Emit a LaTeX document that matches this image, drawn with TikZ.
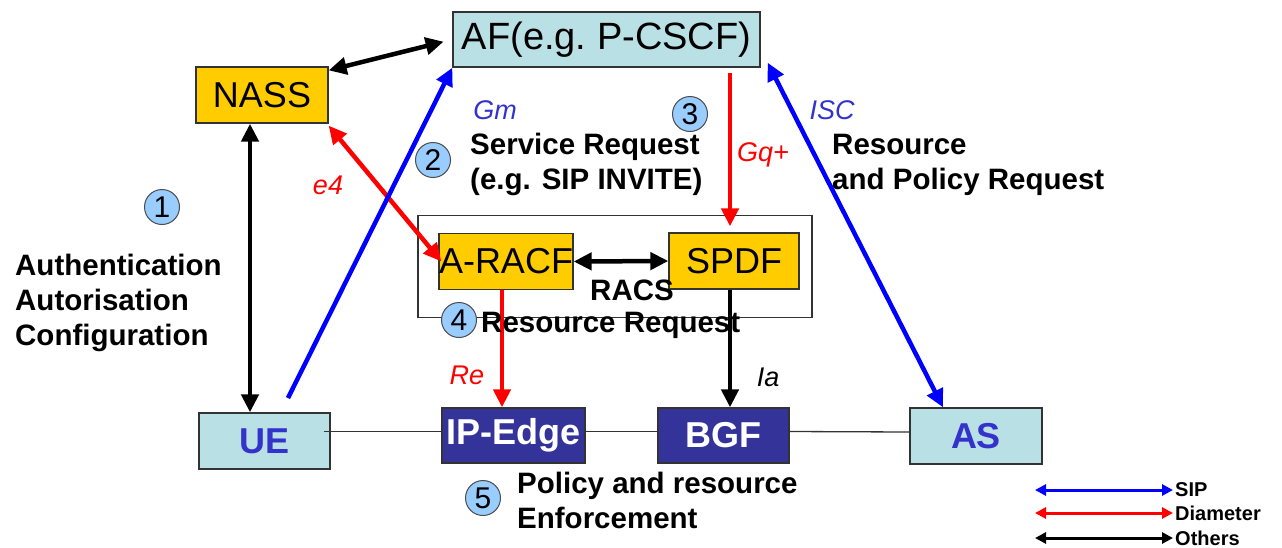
\documentclass[tikz,border=0pt]{standalone}
\usepackage{fontspec}
\setmainfont{Liberation Sans}
\usetikzlibrary{arrows.meta,calc}
\definecolor{cyanbox}{RGB}{185,224,228}
\definecolor{yellowbox}{RGB}{255,204,0}
\definecolor{dblue}{RGB}{51,51,153}
\definecolor{circfill}{RGB}{153,204,255}
\definecolor{lblue}{RGB}{51,51,204}
\tikzset{
  bigtip/.tip={Triangle[length=18pt,width=17pt]},
  smalltip/.tip={Triangle[length=11pt,width=11pt]},
  box/.style={draw=black!80, line width=1.3pt, inner sep=0pt, minimum width=132pt, minimum height=56pt},
  cyanb/.style={box, fill=cyanbox},
  yelb/.style={box, fill=yellowbox, font=\fontsize{36}{43}\selectfont},
  darkb/.style={box, fill=dblue, text=white, font=\bfseries\fontsize{36}{43}\selectfont},
  onearr/.style={line width=4.5pt, -bigtip},
  twoarr/.style={line width=4.5pt, bigtip-bigtip},
  legarr/.style={line width=3pt, smalltip-smalltip},
  thinl/.style={line width=1.3pt, black!80},
  num/.style={circle, draw=black!70, line width=1pt, fill=circfill, minimum size=35pt, inner sep=0pt, font=\fontsize{30}{32}\selectfont},
  btxt/.style={font=\bfseries\fontsize{29.5}{35}\selectfont, align=left, inner sep=0pt},
  itxt/.style={font=\itshape\fontsize{27}{30}\selectfont, inner sep=0pt},
  legtxt/.style={font=\bfseries\fontsize{20}{22}\selectfont, inner sep=0pt, anchor=west}
}
\begin{document}
\begin{tikzpicture}[x=1pt,y=-1pt]
\useasboundingbox[fill=white] (0,0) rectangle (1282,547);

% RACS frame
\node[draw=black!80, line width=1.3pt, minimum width=394pt, minimum height=102pt, inner sep=0pt] (racs) at (615,266.5) {};

% boxes
\node[cyanb, minimum width=307pt, minimum height=55pt, font=\fontsize{38}{45}\selectfont] (af) at (606.5,39.5) {AF(e.g.\ P-CSCF)};
\node[yelb] (nass) at (262,95) {NASS};
\node[yelb] (aracf) at (506,261.5) {A-RACF};
\node[yelb, minimum width=130pt] (spdf) at (734,261) {SPDF};
\node[cyanb, minimum width=131pt, text=lblue, font=\bfseries\fontsize{36}{43}\selectfont] (ue) at (264.5,441) {UE};
\node[darkb, minimum width=143pt, minimum height=55pt] (ipedge) at (513.5,435.5) {IP-Edge};
\node[darkb, minimum width=131pt, minimum height=55pt] (bgf) at (723.5,435.5) {BGF};
\node[cyanb, text=lblue, font=\bfseries\fontsize{36}{43}\selectfont] (as) at (976,436) {AS};

% thin transport line
\draw[thinl] ([xshift=-7pt,yshift=4pt]ue.east |- ipedge.west) -- ([yshift=4pt]ipedge.west);
\draw[thinl] ([yshift=4pt]ipedge.east) -- ([yshift=4pt]bgf.west);
\draw[thinl] ([yshift=4pt]bgf.east) -- ([yshift=4pt]as.west);

% connectors
\coordinate (gmstart) at (288,398);
\draw[twoarr, black, shorten >=9pt] ([yshift=-4pt]nass.north east) -- (af.west);
\draw[twoarr, black] ([xshift=-12pt]nass.south) -- ([xshift=-14.5pt]ue.north);
\draw[twoarr, red] ([yshift=-2pt]nass.south east) -- ([xshift=3pt]aracf.west);
\draw[onearr, blue] (gmstart) -- (af.south west);
\draw[onearr, red, shorten <=5pt, shorten >=6pt] ([xshift=-4pt]af.south -| spdf.north) -- ([xshift=-4pt]spdf.north);
\draw[twoarr, blue] ([xshift=7pt,yshift=5pt]af.south east) -- ([xshift=-33pt]as.north);
\draw[twoarr, black] (aracf.east) -- (spdf.west);
\draw[onearr, red] ([xshift=-4pt]aracf.south) -- ([xshift=-4pt]aracf.south |- ipedge.north);
\draw[onearr, black] ([xshift=-4pt]spdf.south) -- ([xshift=-4pt]spdf.south |- bgf.north);

% interface labels
\node[itxt, text=lblue] (lgm) at (495,110) {Gm};
\node[itxt, text=red] (le4) at (328,185) {e4};
\node[itxt, text=red] (lgq) at (763,155) {Gq+};
\node[itxt, text=lblue] (lisc) at (832,110) {ISC};
\node[itxt, text=red] (lre) at (467,375) {Re};
\node[itxt] (lia) at (768,377) {Ia};

% step numbers
\node[num] (n1) at (162,207) {1};
\node[num] (n2) at (433,160) {2};
\node[num] (n3) at (690,114) {3};
\node[num] (n4) at (459,320) {4};
\node[num] (n5) at (483,498) {5};

% descriptive texts
\node[btxt, anchor=west] (t1) at (15,303) {Authentication\\Autorisation\\Configuration};
\node[btxt, anchor=west] (t2) at (470,164.5) {Service Request\\(e.g. SIP INVITE)};
\node[btxt, anchor=west] (t3) at (832,164.5) {Resource\\and Policy Request};
\node[btxt] (tracs) at (632,290) {RACS};
\node[btxt, anchor=west] (t4) at (481,325) {Resource Request};
\node[btxt, anchor=west] (t5) at (517,500) {Policy and resource\\Enforcement};

% legend
\coordinate (la1) at (1035,490); \coordinate (lb1) at (1173,490);
\coordinate (la2) at (1035,513); \coordinate (lb2) at (1173,513);
\coordinate (la3) at (1035,538); \coordinate (lb3) at (1173,538);
\draw[legarr, blue] (la1) -- (lb1);
\draw[legarr, red] (la2) -- (lb2);
\draw[legarr, black] (la3) -- (lb3);
\node[legtxt] (lsip) at (1175,490) {SIP};
\node[legtxt] (ldia) at (1175,513) {Diameter};
\node[legtxt] (loth) at (1175,538) {Others};
\end{tikzpicture}
\end{document}
